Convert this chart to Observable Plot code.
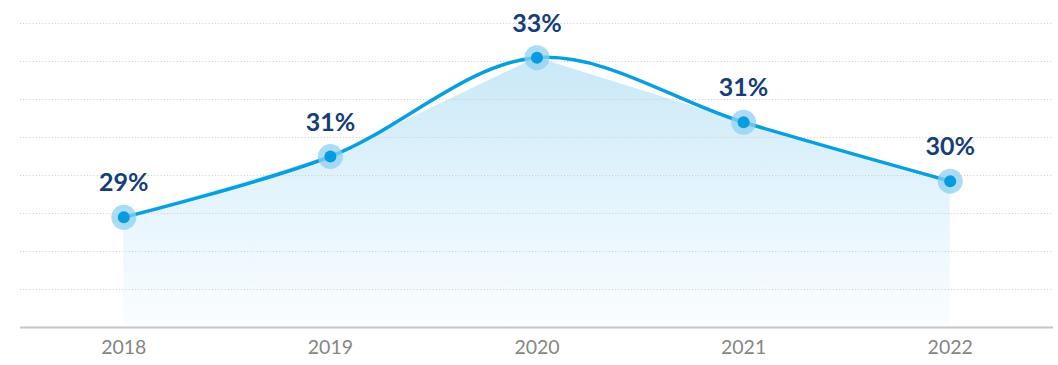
<!DOCTYPE html>
<html>
<head>
<meta charset="utf-8">
<script src="https://cdn.jsdelivr.net/npm/d3@7"></script>
<script src="https://cdn.jsdelivr.net/npm/@observablehq/plot@0.6"></script>
<style>
  html, body { margin: 0; padding: 0; background: #fff; }
  #chart { width: 1058px; height: 365px; }
</style>
</head>
<body>
<div id="chart"></div>
<script>
const years = [2018, 2019, 2020, 2021, 2022];
const values = [28.9, 30.5, 33.1, 31.4, 29.85];
const gridValues = [27, 28, 29, 30, 31, 32, 33, 34];

const data = years.map((y, i) => ({year: y, value: values[i]}));
const base = 26;

const plot = Plot.plot({
  width: 1058,
  height: 365,
  marginLeft: 20,
  marginRight: 5,
  marginTop: 23,
  marginBottom: 38,
  style: {fontFamily: "Lato, 'Open Sans', sans-serif", background: "#fff"},
  x: {domain: [2017.5, 2022.5], ticks: years, tickFormat: "d", tickSize: 0, tickPadding: 13, label: null},
  y: {domain: [26, 34], axis: null},
  marks: [
    Plot.areaY(data, {x: "year", y1: () => base, y2: "value", fill: "url(#areaGrad)", curve: "linear"}),
    Plot.ruleY(gridValues, {stroke: "#cdcdcd", strokeWidth: 1, strokeDasharray: "1,2.2"}),
    Plot.ruleY([base], {stroke: "#c6c6c6", strokeWidth: 2}),
    Plot.line(data, {x: "year", y: "value", stroke: "#079fe0", strokeWidth: 3.5, curve: "catmull-rom"}),
    Plot.dot(data, {x: "year", y: "value", r: 12.5, fill: "#8fd0f1", fillOpacity: 0.75, stroke: "none"}),
    Plot.dot(data, {x: "year", y: "value", r: 6, fill: "#069de0", stroke: "none"}),
    Plot.text(data, {x: "year", y: "value", text: d => Math.round(d.value) + "%", dy: -34,
      fontSize: 25, fontWeight: "bold", fill: "#153e78"})
  ]
});

const svg = d3.select(plot);
const defs = svg.insert("defs", ":first-child");
const g = defs.append("linearGradient").attr("id", "areaGrad")
  .attr("x1", 0).attr("y1", 0).attr("x2", 0).attr("y2", 1);
g.append("stop").attr("offset", "0%").attr("stop-color", "#c9e8f7");
g.append("stop").attr("offset", "50%").attr("stop-color", "#e3f4fc");
g.append("stop").attr("offset", "100%").attr("stop-color", "#fbfdff");

svg.selectAll("g[aria-label='x-axis tick label']")
  .attr("font-size", 19.5).attr("fill", "#858585");

document.getElementById("chart").appendChild(plot);
</script>
</body>
</html>
